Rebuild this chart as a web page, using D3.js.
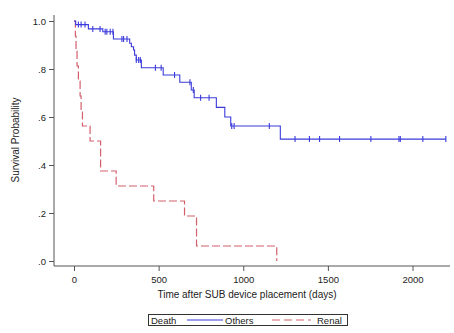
<!DOCTYPE html>
<html>
<head>
<meta charset="utf-8">
<script src="https://cdn.jsdelivr.net/npm/d3@7"></script>
<style>
  body { margin: 0; background: #fff; }
  svg text { font-family: "Liberation Sans", Arial, sans-serif; fill: #222; }
</style>
</head>
<body>
<svg id="chart" width="454" height="333"></svg>
<script>
// ---- data ----
const othersEventTimes = [10, 85, 170, 233, 329, 339, 352, 358, 368, 398, 527, 625, 693, 710, 841, 891, 926, 1219];
const othersSurvival   = [0.985, 0.967, 0.955, 0.925, 0.907, 0.893, 0.879, 0.858, 0.8375, 0.805, 0.775, 0.745, 0.7125, 0.68, 0.64, 0.60, 0.5625, 0.508];
const othersEndTime = 2197;
const othersCensorTimes = [26, 42, 65, 111, 154, 184, 194, 214, 230, 283, 293, 313, 368, 382, 392, 481, 515, 594, 685, 705, 748, 798, 932, 946, 1154, 1306, 1391, 1451, 1569, 1754, 1920, 1928, 2061, 2197];

const renalEventTimes = [8, 12, 18, 26, 36, 42, 50, 95, 157, 249, 471, 653, 724, 1198];
const renalSurvival   = [0.9375, 0.875, 0.8125, 0.75, 0.6875, 0.625, 0.5625, 0.5, 0.375, 0.3125, 0.25, 0.1875, 0.0625, 0];
const renalEndTime = 1198;

const xTicks = [0, 500, 1000, 1500, 2000];
const yTicks = [0, 0.2, 0.4, 0.6, 0.8, 1.0];
const yTickLabels = [".0", ".2", ".4", ".6", ".8", "1.0"];

const xTitle = "Time after SUB device placement (days)";
const yTitle = "Survival Probability";
const legendTitle = "Death";
const seriesNames = ["Others", "Renal"];

// ---- chart ----
const svg = d3.select("#chart");
const x = d3.scaleLinear().domain([0, 2000]).range([74, 412.5]);
const y = d3.scaleLinear().domain([0, 1]).range([261, 21]);
const axisColor = "#555";
const blue = "#3b3bdc";
const red = "#d2606c";

// axis lines
svg.append("line").attr("x1", 54).attr("x2", 54).attr("y1", 15).attr("y2", 266)
  .attr("stroke", axisColor).attr("stroke-width", 1);
svg.append("line").attr("x1", 54).attr("x2", 450).attr("y1", 266).attr("y2", 266)
  .attr("stroke", axisColor).attr("stroke-width", 1);

const yAxis = svg.append("g").attr("transform", "translate(54,0)")
  .call(d3.axisLeft(y).tickValues(yTicks).tickSize(5).tickPadding(3)
    .tickFormat((d, i) => yTickLabels[i]));
const xAxis = svg.append("g").attr("transform", "translate(0,266)")
  .call(d3.axisBottom(x).tickValues(xTicks).tickSize(5).tickPadding(5)
    .tickFormat(d3.format("d")));
[yAxis, xAxis].forEach(g => {
  g.select(".domain").remove();
  g.selectAll(".tick line").attr("stroke", axisColor);
  g.selectAll(".tick text").style("font-size", "9.5px").attr("fill", "#222");
});

// axis titles
svg.append("text").attr("x", 247).attr("y", 298).attr("text-anchor", "middle")
  .style("font-size", "10px").text(xTitle);
svg.append("text").attr("transform", "translate(19,140) rotate(-90)")
  .attr("text-anchor", "middle").style("font-size", "10px").text(yTitle);

// step path builder
function stepPoints(times, surv, endT) {
  const pts = [[0, 1]];
  let prev = 1;
  times.forEach((t, i) => {
    pts.push([t, prev]);
    pts.push([t, surv[i]]);
    prev = surv[i];
  });
  const last = pts[pts.length - 1];
  if (endT > last[0]) pts.push([endT, prev]);
  return pts;
}
function levelAt(times, surv, t) {
  let s = 1;
  times.forEach((tt, i) => { if (tt <= t) s = surv[i]; });
  return s;
}
const line = d3.line().x(d => x(d[0])).y(d => y(d[1]));

svg.append("path")
  .datum(stepPoints(renalEventTimes, renalSurvival, renalEndTime))
  .attr("d", line).attr("fill", "none").attr("stroke", red)
  .attr("stroke-width", 1.2).attr("stroke-dasharray", "8,3");

svg.append("path")
  .datum(stepPoints(othersEventTimes, othersSurvival, othersEndTime))
  .attr("d", line).attr("fill", "none").attr("stroke", blue)
  .attr("stroke-width", 1.1);

svg.append("g").selectAll("line").data(othersCensorTimes).join("line")
  .attr("x1", d => x(d)).attr("x2", d => x(d))
  .attr("y1", d => y(levelAt(othersEventTimes, othersSurvival, d)) - 3)
  .attr("y2", d => y(levelAt(othersEventTimes, othersSurvival, d)) + 3)
  .attr("stroke", blue).attr("stroke-width", 1.1);

// legend
const lg = svg.append("g");
lg.append("rect").attr("x", 148.5).attr("y", 314.5).attr("width", 199).attr("height", 11)
  .attr("fill", "none").attr("stroke", "#333").attr("stroke-width", 1);
lg.append("text").attr("x", 151).attr("y", 323.5).style("font-size", "9.5px").text(legendTitle);
lg.append("line").attr("x1", 187).attr("x2", 223).attr("y1", 320).attr("y2", 320)
  .attr("stroke", blue).attr("stroke-width", 1.1);
lg.append("text").attr("x", 225).attr("y", 323.5).style("font-size", "9.5px").text(seriesNames[0]);
lg.append("line").attr("x1", 272).attr("x2", 311).attr("y1", 320).attr("y2", 320)
  .attr("stroke", red).attr("stroke-width", 1.2).attr("stroke-dasharray", "8,4");
lg.append("text").attr("x", 317).attr("y", 323.5).style("font-size", "9.5px").text(seriesNames[1]);
</script>
</body>
</html>
